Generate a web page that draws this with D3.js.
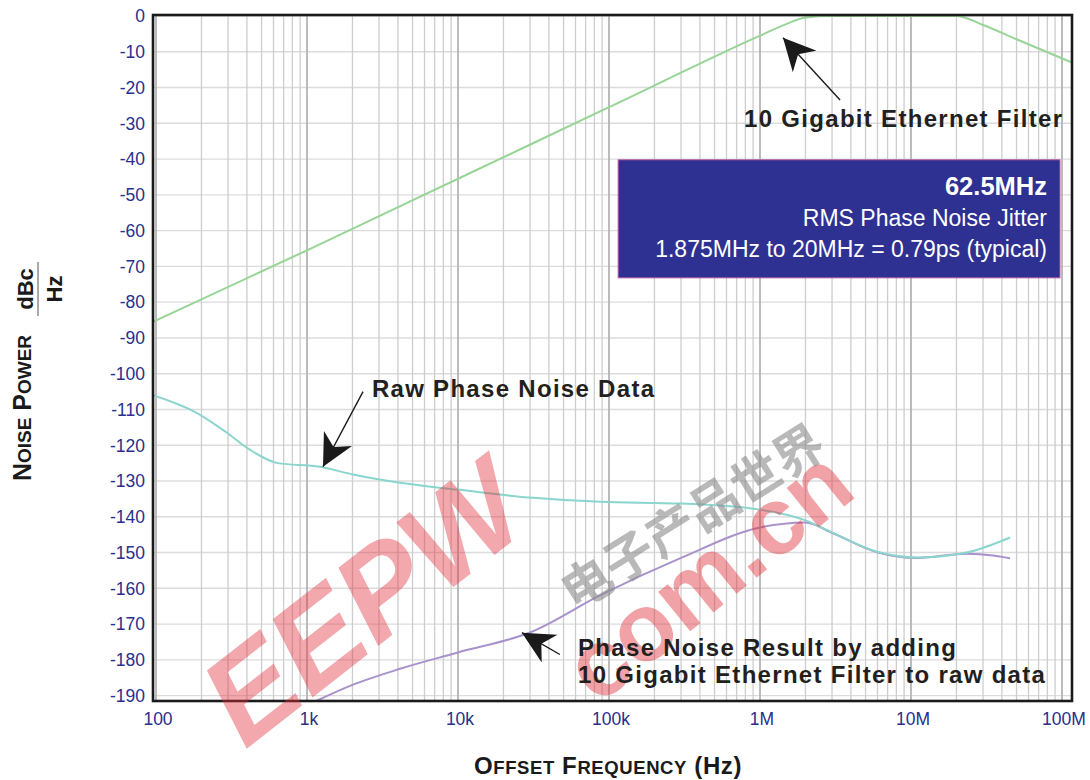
<!DOCTYPE html>
<html>
<head>
<meta charset="utf-8">
<script src="https://cdn.jsdelivr.net/npm/d3@7"></script>
<style>
  body { margin: 0; background: #fff; }
  svg { display: block; font-family: "Liberation Sans", Arial, Helvetica, sans-serif; }
</style>
</head>
<body>
<div id="chart"></div>
<script>
// Axis ticks
const xTickValues = [1e2, 1e3, 1e4, 1e5, 1e6, 1e7, 1e8];
const xTickLabels = ['100', '1k', '10k', '100k', '1M', '10M', '100M'];
const yTickValues = [0, -10, -20, -30, -40, -50, -60, -70, -80, -90, -100,
  -110, -120, -130, -140, -150, -160, -170, -180, -190];

// 10 Gigabit Ethernet filter (green)
const filterFreq = [95.5, 1e3, 1e4, 1e5, 1e6, 1.5e6, 2e6, 3e6, 2e7, 3e7, 5e7, 1.165e8];
const filterDb   = [-85.5, -65.5, -45.5, -25.5, -5.5, -2.2, -0.4, 0, 0, -2.5, -6.5, -13];

// Raw phase noise data (cyan)
const rawFreq = [95.5, 187, 295, 420, 640, 1220, 2020, 4130, 9840, 31400, 87000,
  300000, 1e6, 2e6, 3.04e6, 5.96e6, 1.1e7, 2.34e7, 4.53e7];
const rawDb   = [-106, -111, -116.5, -121.3, -125, -126, -128.2, -130.5, -132.4, -134.7, -135.8,
  -136.3, -138, -141, -144.5, -149.8, -151.4, -150, -145.8];

// Phase noise result with filter (purple)
const resultFreq = [1150, 2000, 4130, 9840, 31400, 87000, 300000, 1e6, 2e6, 3.04e6,
  5.96e6, 1.1e7, 2.34e7, 3.5e7, 4.53e7];
const resultDb   = [-191.5, -187, -182.5, -178, -172, -162, -151.5, -143, -141.6, -144.6,
  -149.9, -151.5, -150.3, -150.8, -151.6];

document.addEventListener('DOMContentLoaded', function() {
  const width = 1090, height = 780;
  const margin = {top: 15, right: 18, bottom: 79, left: 153};

  const svg = d3.select('#chart').append('svg')
    .attr('width', width)
    .attr('height', height);

  svg.append('rect').attr('width', width).attr('height', height).attr('fill', '#fff');

  const x = d3.scaleLog()
    .domain([95.5, 1.165e8])
    .range([margin.left, width - margin.right]);

  const y = d3.scaleLinear()
    .domain([0.28, -191.5])
    .range([margin.top, height - margin.bottom]);

  const [x0, x1] = x.range();
  const [y0, y1] = y.range();

  svg.append('clipPath').attr('id', 'plot-clip')
    .append('rect').attr('x', x0).attr('y', y0).attr('width', x1 - x0).attr('height', y1 - y0);

  // Grid
  const grid = svg.append('g').attr('class', 'grid');
  grid.selectAll('line.h')
    .data(yTickValues)
    .join('line')
    .attr('class', 'h')
    .attr('x1', x0).attr('x2', x1)
    .attr('y1', d => y(d)).attr('y2', d => y(d))
    .attr('stroke', '#dcdcdc')
    .attr('stroke-width', 1.4);

  grid.selectAll('line.v')
    .data(x.ticks())
    .join('line')
    .attr('class', 'v')
    .attr('x1', d => x(d)).attr('x2', d => x(d))
    .attr('y1', y0).attr('y2', y1)
    .attr('stroke', d => xTickValues.includes(d) ? '#b4b4b4' : '#cdcdcd')
    .attr('stroke-width', d => xTickValues.includes(d) ? 1.8 : 1.3);

  // Curves
  const line = d3.line()
    .x(d => x(d[0]))
    .y(d => y(d[1]))
    .curve(d3.curveMonotoneX);

  const curves = svg.append('g').attr('clip-path', 'url(#plot-clip)');
  const series = [
    {f: filterFreq, v: filterDb, color: '#98d496'},
    {f: resultFreq, v: resultDb, color: '#a892cc'},
    {f: rawFreq, v: rawDb, color: '#8ad5cd'}
  ];
  series.forEach(s => {
    curves.append('path')
      .datum(s.f.map((f, i) => [f, s.v[i]]))
      .attr('d', line)
      .attr('fill', 'none')
      .attr('stroke', s.color)
      .attr('stroke-width', 2);
  });

  // Frame
  svg.append('rect')
    .attr('x', x0).attr('y', y0)
    .attr('width', x1 - x0).attr('height', y1 - y0)
    .attr('fill', 'none')
    .attr('stroke', '#1a1a1a')
    .attr('stroke-width', 2.6);

  // Tick labels
  const tickColor = '#2b2e8c';
  svg.append('g')
    .selectAll('text')
    .data(yTickValues)
    .join('text')
    .attr('x', x0 - 8)
    .attr('y', d => y(d))
    .attr('dy', '0.36em')
    .attr('text-anchor', 'end')
    .attr('font-size', 17.5)
    .attr('fill', tickColor)
    .text(d => d);

  svg.append('g')
    .selectAll('text')
    .data(xTickValues)
    .join('text')
    .attr('x', d => x(d) + 2)
    .attr('y', y1 + 24)
    .attr('text-anchor', 'middle')
    .attr('font-size', 17.5)
    .attr('fill', tickColor)
    .text((d, i) => xTickLabels[i]);

  // Axis titles (small caps)
  function smallCaps(sel, words, big, small) {
    words.forEach((w, i) => {
      sel.append('tspan').attr('font-size', big).text((i ? ' ' : '') + w[0]);
      sel.append('tspan').attr('font-size', small).text(w.slice(1).toUpperCase());
    });
  }

  const xt = svg.append('text')
    .attr('x', 608)
    .attr('y', 774)
    .attr('text-anchor', 'middle')
    .attr('font-weight', 'bold')
    .attr('letter-spacing', 0.6)
    .attr('fill', '#1a1a1a');
  smallCaps(xt, ['Offset', 'Frequency'], 24, 18.5);
  xt.append('tspan').attr('font-size', 24).text(' (Hz)');

  const yt = svg.append('g').attr('transform', 'translate(31,408) rotate(-90)');
  const ytText = yt.append('text')
    .attr('text-anchor', 'middle')
    .attr('font-weight', 'bold')
    .attr('fill', '#1a1a1a');
  smallCaps(ytText, ['Noise', 'Power'], 25, 19);

  const unit = svg.append('g').attr('transform', 'translate(0,289) rotate(-90)');
  unit.append('text').attr('x', 0).attr('y', 33).attr('text-anchor', 'middle')
    .attr('font-weight', 'bold').attr('font-size', 22).attr('fill', '#1a1a1a').text('dBc');
  unit.append('line').attr('x1', -27).attr('x2', 27).attr('y1', 38).attr('y2', 38)
    .attr('stroke', '#555').attr('stroke-width', 1);
  unit.append('text').attr('x', 0).attr('y', 62).attr('text-anchor', 'middle')
    .attr('font-weight', 'bold').attr('font-size', 22).attr('fill', '#1a1a1a').text('Hz');

  // Watermark (drawn beneath the annotations)
  const wm = svg.append('g').attr('pointer-events', 'none');
  wm.append('text')
    .attr('transform', 'translate(245,750) rotate(-38)')
    .attr('font-size', 125)
    .attr('font-weight', 'bold')
    .attr('font-style', 'italic')
    .attr('fill', '#e0303a')
    .attr('fill-opacity', 0.42)
    .text('EEPW');
  wm.append('text')
    .attr('transform', 'translate(598,706) rotate(-39)')
    .attr('font-size', 96)
    .attr('font-weight', 'bold')
    .attr('fill', '#e0303a')
    .attr('fill-opacity', 0.45)
    .text('com.cn');
  wm.append('text')
    .attr('transform', 'translate(575,612) rotate(-32)')
    .attr('font-size', 50)
    .attr('font-family', '"Noto Sans CJK SC", sans-serif')
    .attr('font-weight', 'bold')
    .attr('fill', '#8a8a8a')
    .attr('fill-opacity', 0.6)
    .text('电子产品世界');

  // Arrow marker
  svg.append('defs').append('marker')
    .attr('id', 'arrow')
    .attr('viewBox', '0 0 10 10')
    .attr('refX', 10).attr('refY', 5)
    .attr('markerWidth', 32).attr('markerHeight', 32)
    .attr('markerUnits', 'userSpaceOnUse')
    .attr('orient', 'auto')
    .append('path')
    .attr('d', 'M0,0 L10,5 L0,10 L3,5 Z')
    .attr('fill', '#1a1a1a');

  function arrow(from, to) {
    svg.append('line')
      .attr('x1', x(from[0])).attr('y1', y(from[1]))
      .attr('x2', x(to[0])).attr('y2', y(to[1]))
      .attr('stroke', '#1a1a1a')
      .attr('stroke-width', 1.4)
      .attr('marker-end', 'url(#arrow)');
  }

  function label(xv, yv, txt, anchor) {
    svg.append('text')
      .attr('x', x(xv)).attr('y', y(yv))
      .attr('text-anchor', anchor)
      .attr('font-weight', 'bold')
      .attr('font-size', 24)
      .attr('letter-spacing', 1.3)
      .attr('fill', '#231f20')
      .text(txt);
  }

  // 10 Gigabit Ethernet Filter annotation
  arrow([3.39e6, -23.5], [1.42e6, -6.1]);
  label(1.02e8, -31, '10 Gigabit Ethernet Filter', 'end');

  // Raw phase noise annotation
  arrow([2350, -105], [1276, -126]);
  label(2690, -106.4, 'Raw Phase Noise Data', 'start');

  // Result annotation
  arrow([47300, -178.5], [26500, -172.4]);
  label(62400, -178.8, 'Phase Noise Result by adding', 'start');
  label(62400, -186.5, '10 Gigabit Ethernet Filter to raw data', 'start');

  // Info box
  const bx0 = x(1.15e5), bx1 = x(9.7e7), by0 = y(-40.2), by1 = y(-73.2);
  svg.append('rect')
    .attr('x', bx0).attr('y', by0)
    .attr('width', bx1 - bx0).attr('height', by1 - by0)
    .attr('fill', '#2e3192')
    .attr('stroke', '#b5559e')
    .attr('stroke-width', 1);
  const info = [
    {t: '62.5MHz', size: 25.5, weight: 'bold', dy: 35},
    {t: 'RMS Phase Noise Jitter', size: 23, weight: 'normal', dy: 66},
    {t: '1.875MHz to 20MHz = 0.79ps (typical)', size: 23, weight: 'normal', dy: 97}
  ];
  svg.append('g').selectAll('text')
    .data(info)
    .join('text')
    .attr('x', bx1 - 13)
    .attr('y', d => by0 + d.dy)
    .attr('text-anchor', 'end')
    .attr('font-size', d => d.size)
    .attr('font-weight', d => d.weight)
    .attr('fill', '#fff')
    .text(d => d.t);
});
</script>
</body>
</html>
